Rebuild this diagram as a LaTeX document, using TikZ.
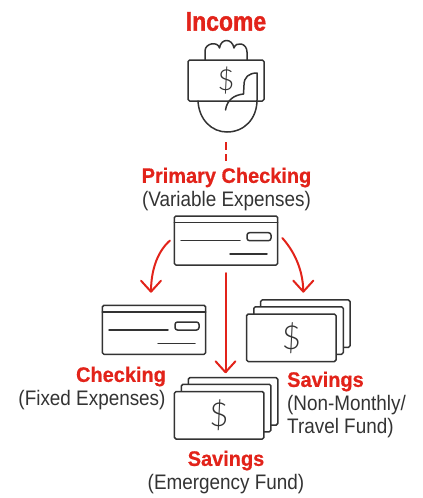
\documentclass[tikz,border=0pt]{standalone}
\usepackage{fontspec}
\usetikzlibrary{calc}
\newfontfamily\regf[FakeStretch=0.9]{Liberation Sans}
\newfontfamily\bldf[FakeStretch=0.95,FakeBold=0.6]{Liberation Sans Bold}
\newfontfamily\bigf[FakeStretch=0.85,FakeBold=1.2]{Liberation Sans Bold}
\newfontfamily\thinf{Lato Light}
\definecolor{redc}{HTML}{E2231A}
\definecolor{ink}{HTML}{333333}
\tikzset{
  icon/.style={draw=ink,line width=1.5pt,line cap=round,line join=round},
  card/.style={icon,fill=white,rounded corners=1.6pt,minimum width=#1,inner sep=0pt,outer sep=0pt},
  checkbox/.style={card=103.4pt,minimum height=49pt},
  billbox/.style={card=89.5pt,minimum height=47.5pt},
  bigbillbox/.style={card=76pt,minimum height=41pt},
  pill/.style={icon,rounded corners=2.5pt,minimum width=24pt,minimum height=8pt,inner sep=0pt},
  head/.style={font=\bldf\fontsize{21}{23}\selectfont,text=redc,inner sep=0pt},
  sub/.style={font=\regf\fontsize{21}{23}\selectfont,text=ink,inner sep=0pt},
  flow/.style={draw=redc,line width=2pt,line cap=round,line join=miter},
  dollar/.style={font=\thinf\fontsize{33}{35}\selectfont,text=ink,inner sep=0pt},
  smalldollar/.style={font=\thinf\fontsize{29}{31}\selectfont,text=ink,inner sep=0pt},
}
\newcommand{\wings}[1]{ -- ++(-10,-11) (#1) -- ++(10,-11) }
\begin{document}
\begin{tikzpicture}[x=1pt,y=-1pt]
\useasboundingbox (0,0) rectangle (423,498);
% Income
\node[head,font=\bigf\fontsize{27}{29}\selectfont] (income) at (226,21.5) {Income};
\draw[icon] (205,60) -- (205,51) .. controls (205,43) and (218,41) .. (219.5,48)
  .. controls (221,38) and (232,38) .. (234,48)
  .. controls (236,41) and (247,43) .. (247,52) -- (247,60);
\node[bigbillbox] (cash) at (226,80.5) {};
\node[smalldollar] (cashd) at (226,81) {\$};
\draw[icon] (198,101) .. controls (199,120) and (212,132) .. (227,132)
  .. controls (244,132) and (257,119) .. (257,100) -- (257,73)
  .. controls (249,73) and (244,77) .. (244,85) -- (243.5,94)
  .. controls (234,95) and (227,100) .. (225.5,110);
\coordinate (dashtop) at (226,142);
\coordinate (dashbot) at (226,161);
\draw[flow,line cap=butt,dash pattern=on 8pt off 4pt] (dashtop) -- (dashbot);
% Primary
\node[head] (primaryt) at (226.5,177.5) {Primary Checking};
\node[sub] (primarys) at (226.5,201.5) {(Variable Expenses)};
\node[checkbox] (primary) at (226,240.5) {};
\draw[icon] (primary.north west) ++(0,6.7) -- ++(103.4,0);
\draw[icon] (181,240.7) -- (240,240.7) (230,254) -- (267,254);
\node[pill] (primarypill) at (259,236.7) {};
% Checking
\node[checkbox] (checking) at (154,329.8) {};
\draw[icon] (checking.north west) ++(0,6.7) -- ++(103.4,0);
\draw[icon] (109,330) -- (168,330) (158,343.3) -- (195,343.3);
\node[pill] (checkingpill) at (187,326) {};
\node[head] (checkingt) at (121,376.5) {Checking};
\node[sub] (checkings) at (92,400.5) {(Fixed Expenses)};
% Savings right
\node[billbox] (sr3) at (305.3,323.7) {};
\node[billbox] (sr2) at (298.5,330.5) {};
\node[billbox] (sr1) at (291.3,337.8) {};
\node[dollar] (srd) at (291.5,338) {\$};
\node[head,anchor=west] (srt) at (287,381.5) {Savings};
\node[sub,anchor=west] (srs1) at (287,405.5) {(Non-Monthly/};
\node[sub,anchor=west] (srs2) at (287,428.5) {Travel Fund)};
% Savings bottom
\node[billbox] (sb3) at (233,401.4) {};
\node[billbox] (sb2) at (226.2,408) {};
\node[billbox] (sb1) at (219.2,415.3) {};
\node[dollar] (sbd) at (219,415.5) {\$};
\node[head] (sbt) at (226,460.5) {Savings};
\node[sub] (sbs) at (226,484.5) {(Emergency Fund)};
% Arrows
\coordinate (ltip) at ($(checking.north)+(-3,-13.6)$);
\coordinate (rtip) at ($(sr3.north)+(-2,-8.3)$);
\coordinate (mtip) at ($(sb3.north)+(-7.5,-5.4)$);
\draw[flow] ($(primary.west)+(-4.3,0)$) .. controls (158,251) and (151,269) .. (ltip);
\draw[flow] (ltip)\wings{ltip};
\draw[flow] ($(primary.east)+(4.6,-2.5)$) .. controls (293,250) and (303,268) .. (rtip);
\draw[flow] (rtip)\wings{rtip};
\draw[flow] ($(primary.south)+(-0.5,8)$) -- (mtip);
\draw[flow] (mtip)\wings{mtip};
\end{tikzpicture}
\end{document}
